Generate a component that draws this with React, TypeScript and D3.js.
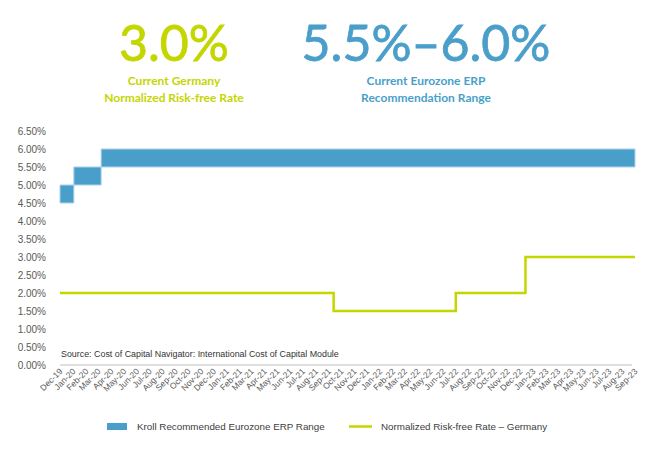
import React from "react";
import * as d3 from "d3";

const erpDates = ["2019-12-01", "2020-01-03", "2020-03-08", "2023-09-01"];
const erpLow = [4.5, 5.0, 5.5, 5.5];
const erpHigh = [5.0, 5.5, 6.0, 6.0];

const rfDates = ["2019-12-01", "2021-09-13", "2022-07-01", "2022-12-14", "2023-09-01"];
const rfValues = [2.0, 1.5, 2.0, 3.0, 3.0];

const yTicks = [0, 0.5, 1, 1.5, 2, 2.5, 3, 3.5, 4, 4.5, 5, 5.5, 6, 6.5];
const xStart = "2019-12-01";
const xEnd = "2023-09-01";

const headerRf = "3.0%";
const headerRfSub = ["Current Germany", "Normalized Risk-free Rate"];
const headerErp = "5.5%\u20136.0%";
const headerErpSub = ["Current Eurozone ERP", "Recommendation Range"];
const sourceText = "Source: Cost of Capital Navigator: International Cost of Capital Module";
const legendErp = "Kroll Recommended Eurozone ERP Range";
const legendRf = "Normalized Risk-free Rate \u2013 Germany";

const BLUE = "#4a9fca";
const GREEN = "#c4d600";

export default function App() {
  const parse = d3.timeParse("%Y-%m-%d");
  const x = d3.scaleTime().domain([parse(xStart)!, parse(xEnd)!]).range([60, 635]);
  const y = d3.scaleLinear().domain([0, 6.5]).range([365, 131]);
  const fmtY = (v: number) => d3.format(".2f")(v) + "%";
  const fmtX = d3.timeFormat("%b-%y");
  const months = d3.timeMonth.range(parse(xStart)!, d3.timeDay.offset(parse(xEnd)!, 1));

  const erpData = erpDates.map((d, i) => ({ d: parse(d)!, lo: erpLow[i], hi: erpHigh[i] }));
  const area = d3
    .area<{ d: Date; lo: number; hi: number }>()
    .x((p) => x(p.d))
    .y0((p) => y(p.lo))
    .y1((p) => y(p.hi))
    .curve(d3.curveStepAfter);

  const rfData = rfDates.map((d, i) => ({ d: parse(d)!, v: rfValues[i] }));
  const line = d3
    .line<{ d: Date; v: number }>()
    .x((p) => x(p.d))
    .y((p) => y(p.v))
    .curve(d3.curveStepAfter);

  const font = "'Liberation Sans', Arial, sans-serif";
  const headFont = "Lato, 'Open Sans', sans-serif";

  return (
    <div style={{ position: "absolute", left: 0, top: 0 }}>
      <svg width={651} height={451} style={{ display: "block", background: "#fff" }}>
        {/* header */}
        <text x={174} y={61} textAnchor="middle" fill={GREEN} stroke={GREEN} strokeWidth={0.8} fontFamily={headFont} fontSize={50}>
          {headerRf}
        </text>
        {headerRfSub.map((s, i) => (
          <text key={s} x={174} y={85 + i * 17} textAnchor="middle" fill={GREEN} fontFamily={headFont} fontWeight={700} fontSize={12}>
            {s}
          </text>
        ))}
        <text x={426} y={61} textAnchor="middle" fill={BLUE} stroke={BLUE} strokeWidth={0.8} fontFamily={headFont} fontSize={50}>
          {headerErp}
        </text>
        {headerErpSub.map((s, i) => (
          <text key={s} x={426} y={85 + i * 17} textAnchor="middle" fill={BLUE} fontFamily={headFont} fontWeight={700} fontSize={12}>
            {s}
          </text>
        ))}

        {/* y axis labels */}
        {yTicks.map((t) => (
          <text key={t} x={46} y={y(t)} dy="0.35em" textAnchor="end" fill="#595959" fontFamily={font} fontSize={10}>
            {fmtY(t)}
          </text>
        ))}

        {/* axis line */}
        <line x1={60} x2={632} y1={y(0)} y2={y(0)} stroke="#bfbfbf" strokeWidth={1} />

        {/* x labels */}
        {months.map((m) => (
          <text
            key={m.toISOString()}
            transform={`translate(${x(m) + 3},${372}) rotate(-45)`}
            textAnchor="end"
            fill="#595959"
            fontFamily={font}
            fontSize={8.5}
          >
            {fmtX(m)}
          </text>
        ))}

        {/* ERP range */}
        <path d={area(erpData)!} fill={BLUE} stroke="#a9d3ea" strokeWidth={1} />

        {/* risk-free line */}
        <path d={line(rfData)!} fill="none" stroke={GREEN} strokeWidth={2.5} />

        {/* source */}
        <text x={61} y={357} fill="#333" fontFamily={font} fontSize={8.9}>
          {sourceText}
        </text>

        {/* legend */}
        <rect x={107} y={423} width={20} height={7} fill={BLUE} />
        <text x={137} y={426.5} dy="0.35em" fill="#404040" fontFamily={font} fontSize={9.8}>
          {legendErp}
        </text>
        <line x1={349} x2={372} y1={426.5} y2={426.5} stroke={GREEN} strokeWidth={2.5} />
        <text x={381} y={426.5} dy="0.35em" fill="#404040" fontFamily={font} fontSize={9.8}>
          {legendRf}
        </text>
      </svg>
    </div>
  );
}
